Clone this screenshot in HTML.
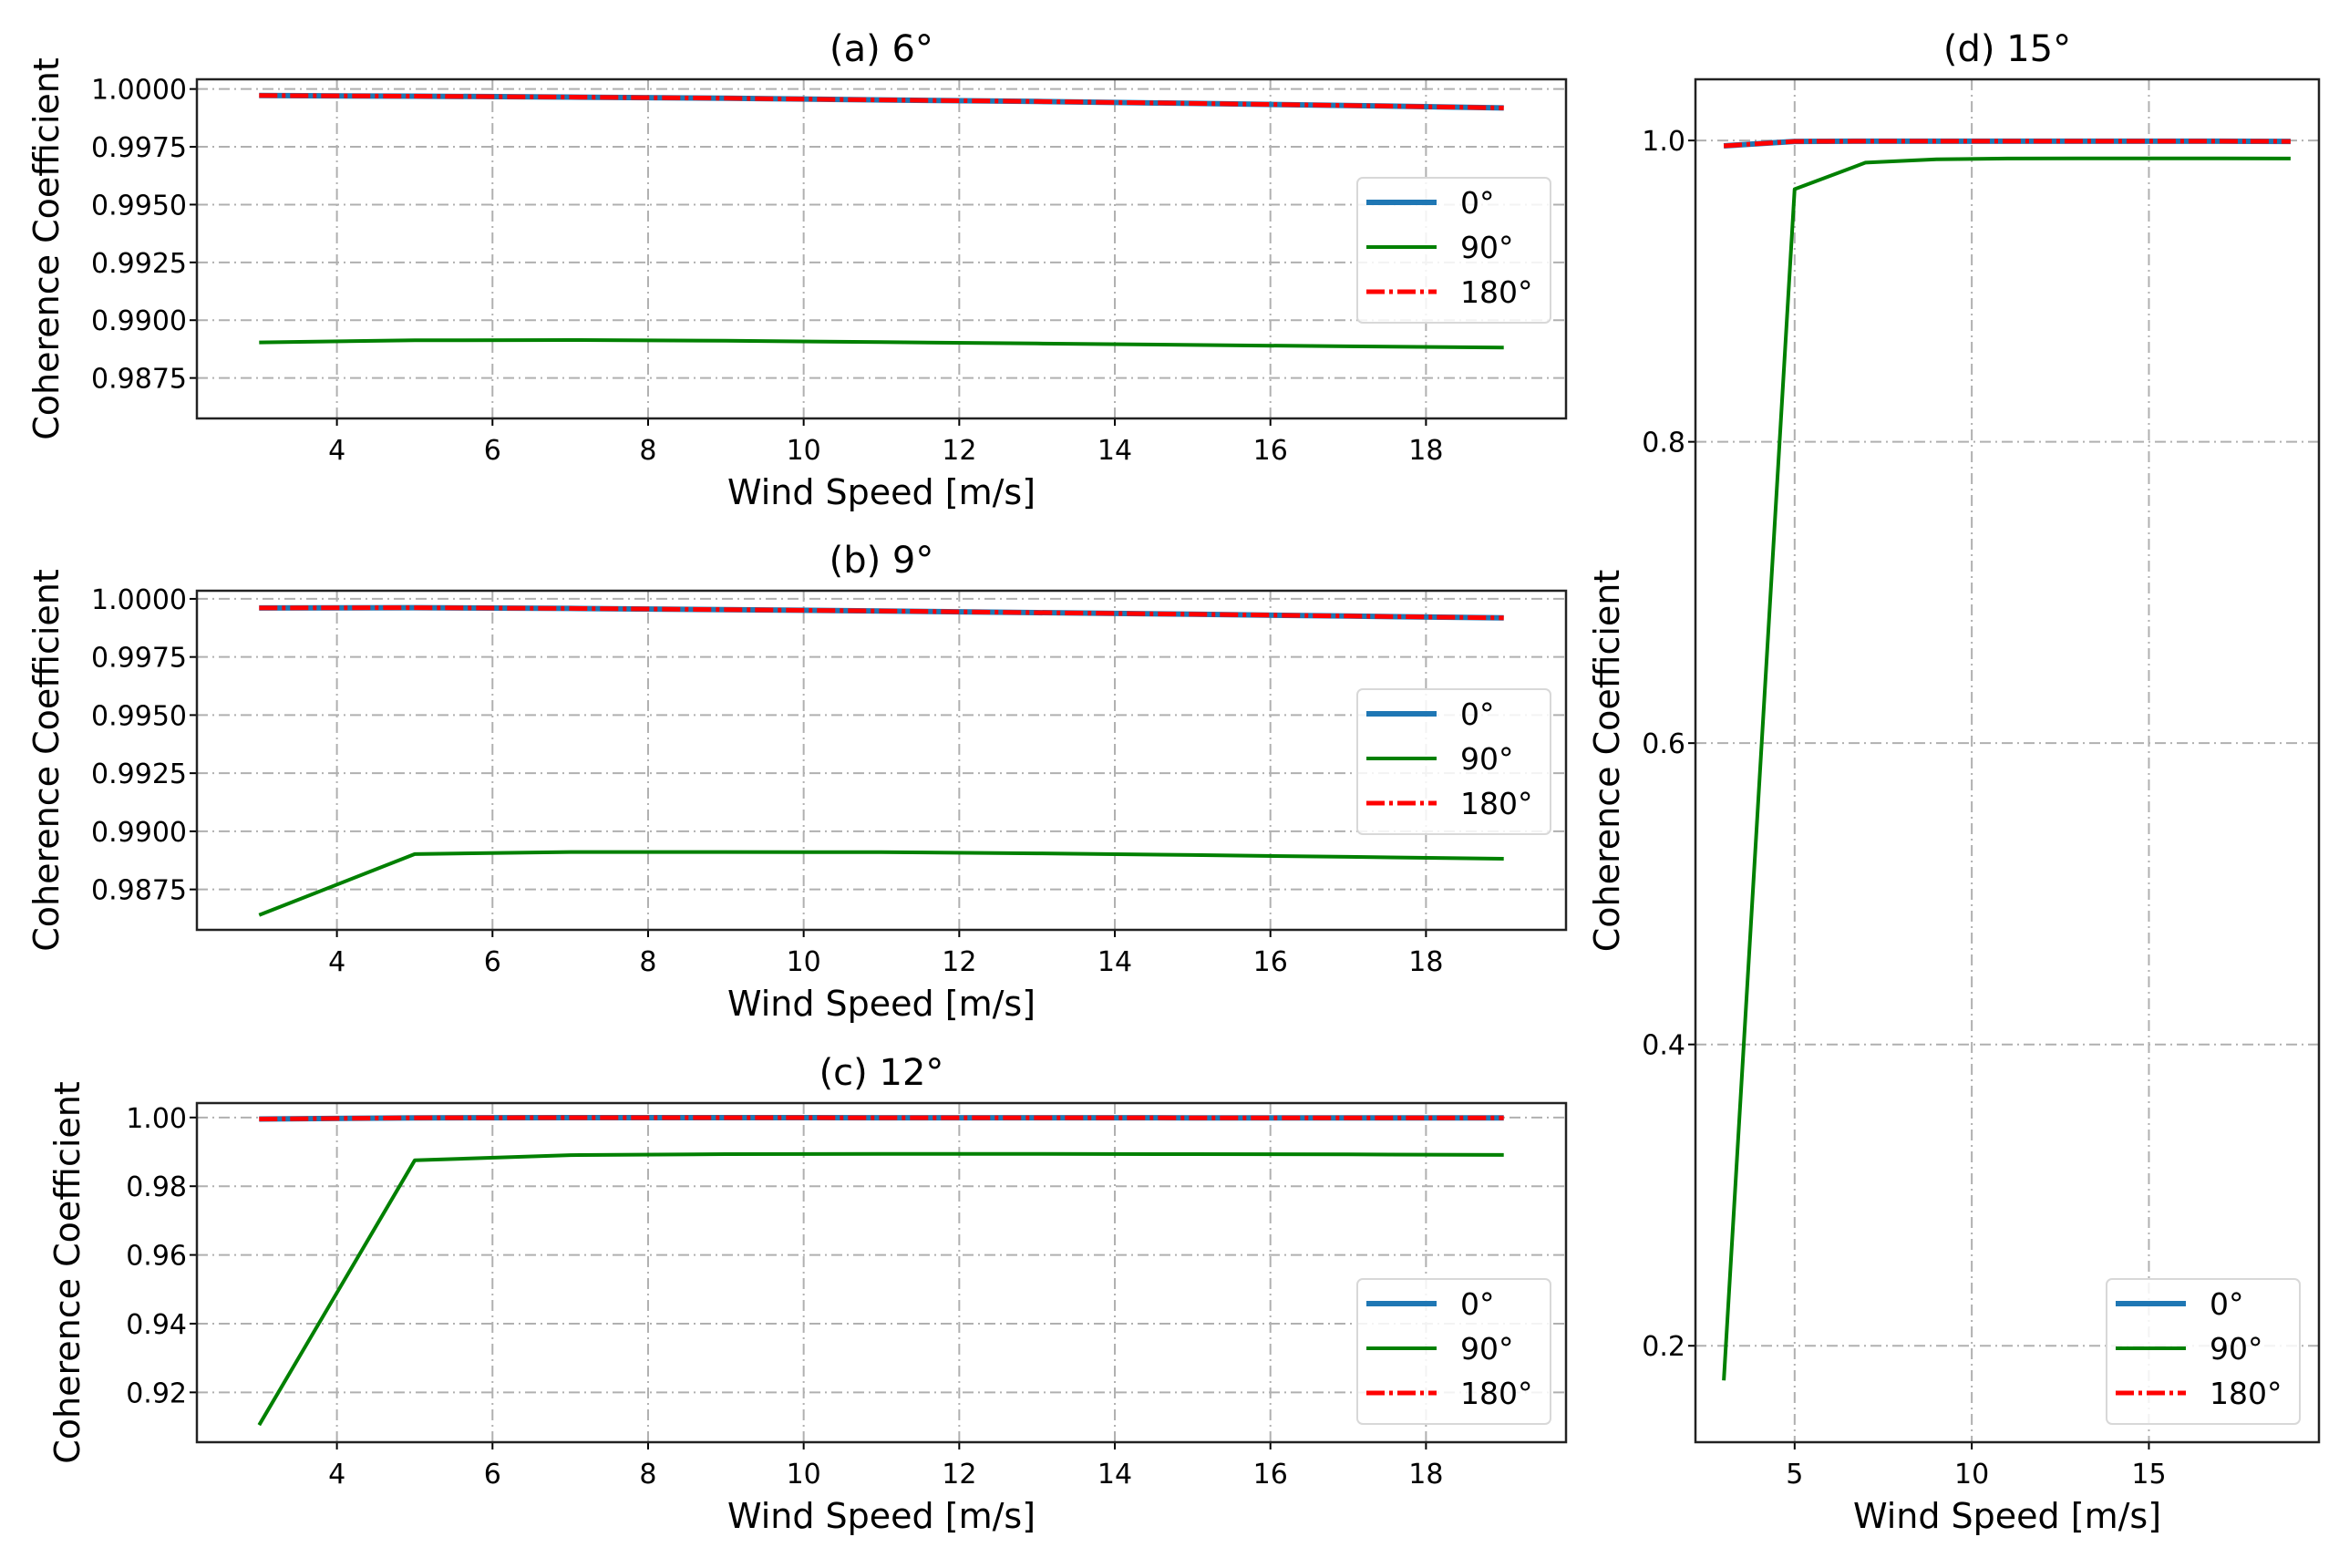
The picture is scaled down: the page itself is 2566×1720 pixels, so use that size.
<!DOCTYPE html>
<html><head><meta charset="utf-8">
<style>
html,body{margin:0;padding:0;background:#fff;}
svg{display:block;font-family:"DejaVu Sans","Liberation Sans",sans-serif;}
</style></head>
<body>
<svg id="fig" width="2566" height="1720" viewBox="0 0 2566 1720" xmlns="http://www.w3.org/2000/svg"></svg>
<script>
const windSpeeds = [3,5,7,9,11,13,15,17,19];
const seriesLabels = ['0°','90°','180°'];
// Panel (a) 6°
const a0 = [0.99972,0.99969,0.99965,0.99960,0.99953,0.99946,0.99938,0.99929,0.99918];
const a90 = [0.98904,0.98913,0.98914,0.98911,0.98905,0.98899,0.98893,0.98887,0.98882];
const a180 = [0.99972,0.99969,0.99965,0.99960,0.99953,0.99946,0.99938,0.99929,0.99918];
// Panel (b) 9°
const b0 = [0.99961,0.99962,0.99959,0.99954,0.99948,0.99941,0.99934,0.99926,0.99918];
const b90 = [0.98640,0.98902,0.98911,0.98911,0.98910,0.98905,0.98898,0.98890,0.98882];
const b180 = [0.99961,0.99962,0.99959,0.99954,0.99948,0.99941,0.99934,0.99926,0.99918];
// Panel (c) 12°
const c0 = [0.99956,0.99990,0.99995,0.99995,0.99994,0.99993,0.99991,0.99989,0.99987];
const c90 = [0.9105,0.98755,0.98904,0.98935,0.98939,0.98939,0.98935,0.98925,0.98910];
const c180 = [0.99956,0.99990,0.99995,0.99995,0.99994,0.99993,0.99991,0.99989,0.99987];
// Panel (d) 15°
const d0 = [0.9964,0.9994,0.9995,0.9995,0.9995,0.9995,0.9995,0.9995,0.9994];
const d90 = [0.177,0.9677,0.9853,0.9875,0.9880,0.9881,0.9881,0.9881,0.9880];
const d180 = [0.9964,0.9994,0.9995,0.9995,0.9995,0.9995,0.9995,0.9995,0.9994];
// tick labels
const yTicksAB = ['0.9875','0.9900','0.9925','0.9950','0.9975','1.0000'];
const yTicksC = ['0.92','0.94','0.96','0.98','1.00'];
const yTicksD = ['0.2','0.4','0.6','0.8','1.0'];
const xTicksABC = ['4','6','8','10','12','14','16','18'];
const xTicksD = ['5','10','15'];
const panelTitles = ['(a) 6°','(b) 9°','(c) 12°','(d) 15°'];

const NS='http://www.w3.org/2000/svg';
const svg=document.getElementById('fig');
function mk(tag,attrs,parent){const e=document.createElementNS(NS,tag);for(const k in attrs)e.setAttribute(k,attrs[k]);(parent||svg).appendChild(e);return e;}

function panel(p){
  const g=mk('g',{});
  
  
  const sx=v=>p.L+(v-p.xmin)/(p.xmax-p.xmin)*(p.R-p.L);
  const sy=v=>p.B-(v-p.ymin)/(p.ymax-p.ymin)*(p.B-p.T);
  p.yt.forEach(t=>{
    const y=sy(parseFloat(t));
    const gl=mk('line',{x1:p.L,x2:p.R,y1:y,y2:y,stroke:'#b0b0b0','stroke-width':2,'stroke-dasharray':'12 5 2 5'},g);
    
    
    mk('line',{x1:p.L-8,x2:p.L,y1:y,y2:y,stroke:'#000','stroke-width':2},g);
    const tx=mk('text',{x:p.L-11,y:y+11,'text-anchor':'end','font-size':30,fill:'#000'},g);
    tx.textContent=t;
    
    
  });
  p.xt.forEach(t=>{
    const x=sx(parseFloat(t));
    const gl=mk('line',{x1:x,x2:x,y1:p.T,y2:p.B,stroke:'#b0b0b0','stroke-width':2,'stroke-dasharray':'12 5 2 5'},g);
    
    
    mk('line',{x1:x,x2:x,y1:p.B,y2:p.B+8,stroke:'#000','stroke-width':2},g);
    const tx=mk('text',{x:x,y:p.B+45,'text-anchor':'middle','font-size':30,fill:'#000'},g);
    tx.textContent=t;
    
    
  });
  const pts=arr=>arr.map((v,i)=>sx(windSpeeds[i]).toFixed(1)+','+sy(v).toFixed(1)).join(' ');
  const l0=mk('polyline',{points:pts(p.s0),fill:'none',stroke:'#1f77b4','stroke-width':6,'stroke-linejoin':'round'},g);
  
  
  const l90=mk('polyline',{points:pts(p.s90),fill:'none',stroke:'#008000','stroke-width':4,'stroke-linejoin':'round'},g);
  
  
  const l180=mk('polyline',{points:pts(p.s180),fill:'none',stroke:'#ff0000','stroke-width':5,'stroke-dasharray':'20 5 4 5'},g);
  
  
  const fr=mk('rect',{x:p.L,y:p.T,width:p.R-p.L,height:p.B-p.T,fill:'none',stroke:'#222','stroke-width':2.5},g);
  
  
  const ti=mk('text',{x:(p.L+p.R)/2,y:p.T-20,'text-anchor':'middle','font-size':40,fill:'#000'},g);
  ti.textContent=p.title;
  
  
  const xl=mk('text',{x:(p.L+p.R)/2,y:p.B+94,'text-anchor':'middle','font-size':38,fill:'#000'},g);
  xl.textContent='Wind Speed [m/s]';
  
  
  const yc=(p.T+p.B)/2;
  const yl=mk('text',{x:p.ylx,y:yc,'text-anchor':'middle','font-size':38,fill:'#000',transform:'rotate(-90 '+p.ylx+' '+yc+')'},g);
  yl.textContent='Coherence Coefficient';
  
  
  const lg=mk('g',{},g);
  
  
  mk('rect',{x:p.lx,y:p.ly,width:212,height:159,rx:6,fill:'#fff','fill-opacity':0.85,stroke:'#d8d8d8','stroke-width':2},lg);
  const styles=[{stroke:'#1f77b4','stroke-width':6},{stroke:'#008000','stroke-width':4},{stroke:'#ff0000','stroke-width':5,'stroke-dasharray':'20 5 4 5'}];
  seriesLabels.forEach((lab,i)=>{
    const y=p.ly+27+i*49;
    const e=mk('g',{},lg);
    
    
    mk('line',Object.assign({x1:p.lx+10,x2:p.lx+87,y1:y,y2:y},styles[i]),e);
    const t=mk('text',{x:p.lx+113,y:y+12,'font-size':33,fill:'#000'},e);
    t.textContent=lab;
  });
}

panel({key:'a',title:panelTitles[0],L:216,R:1718,T:87,B:459,xmin:2.2,xmax:19.8,ymin:0.98575,ymax:1.00042,yt:yTicksAB,xt:xTicksABC,s0:a0,s90:a90,s180:a180,ylx:64,lx:1489,ly:195});
panel({key:'b',title:panelTitles[1],L:216,R:1718,T:648,B:1020,xmin:2.2,xmax:19.8,ymin:0.98576,ymax:1.00035,yt:yTicksAB,xt:xTicksABC,s0:b0,s90:b90,s180:b180,ylx:64,lx:1489,ly:756});
panel({key:'c',title:panelTitles[2],L:216,R:1718,T:1210,B:1582,xmin:2.2,xmax:19.8,ymin:0.9055,ymax:1.0042,yt:yTicksC,xt:xTicksABC,s0:c0,s90:c90,s180:c180,ylx:87,lx:1489,ly:1403});
panel({key:'d',title:panelTitles[3],L:1860,R:2544,T:87,B:1582,xmin:2.2,xmax:19.8,ymin:0.136,ymax:1.0406,yt:yTicksD,xt:xTicksD,s0:d0,s90:d90,s180:d180,ylx:1776,lx:2311,ly:1403});
</script>
</body></html>
